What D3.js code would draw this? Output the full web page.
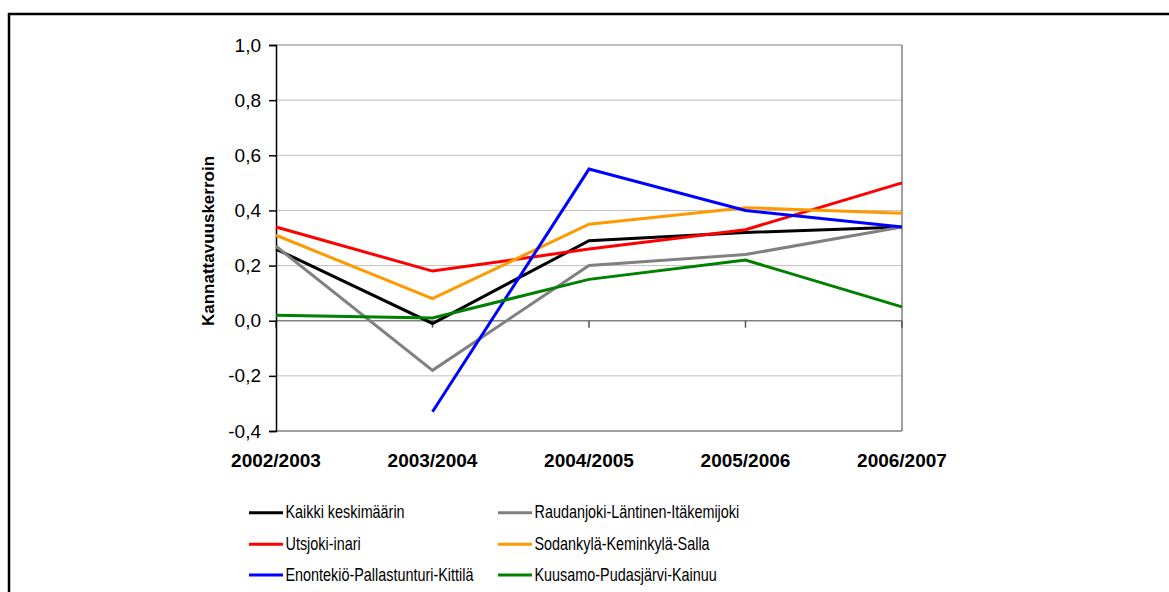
<!DOCTYPE html>
<html>
<head>
<meta charset="utf-8">
<script src="https://cdn.jsdelivr.net/npm/d3@7"></script>
<style>
  body { margin: 0; background: #fff; }
  svg { display: block; font-family: "Liberation Sans", Arial, sans-serif; }
</style>
</head>
<body>
<div id="chart"></div>
<script>
// categories (years) and the y ticks
var years = ['2002/2003', '2003/2004', '2004/2005', '2005/2006', '2006/2007']
var yTicks = [-0.4, -0.2, 0.0, 0.2, 0.4, 0.6, 0.8, 1.0]

// series names, in legend order
var names = ['Kaikki keskimäärin', 'Raudanjoki-Läntinen-Itäkemijoki', 'Utsjoki-inari',
             'Sodankylä-Keminkylä-Salla', 'Enontekiö-Pallastunturi-Kittilä', 'Kuusamo-Pudasjärvi-Kainuu']

// values (null = no value)
var kaikki     = [0.26, -0.01, 0.29, 0.32, 0.34]
var raudanjoki = [0.27, -0.18, 0.20, 0.24, 0.34]
var utsjoki    = [0.34, 0.18, 0.26, 0.33, 0.50]
var sodankyla  = [0.31, 0.08, 0.35, 0.41, 0.39]
var enontekio  = [null, -0.33, 0.55, 0.40, 0.34]
var kuusamo    = [0.02, 0.01, 0.15, 0.22, 0.05]

var colors = ['#000000', '#808080', '#ff0000', '#ff9900', '#0000ff', '#008000']

var W = 1169, H = 592
var plot = {left: 276, right: 902, top: 45, bottom: 431}

var svg = d3.select('#chart').append('svg')
    .attr('width', W).attr('height', H)

// outer frame (right and bottom edges fall outside the picture)
svg.append('rect')
    .attr('x', 9).attr('y', 14)
    .attr('width', W + 20).attr('height', H + 20)
    .attr('fill', 'none').attr('stroke', '#000').attr('stroke-width', 2.5)

var x = d3.scalePoint().domain(years).range([plot.left, plot.right])
var y = d3.scaleLinear().domain([-0.4, 1.0]).range([plot.bottom, plot.top])

//gridlines
svg.append('g')
    .selectAll('line')
    .data(yTicks)
    .enter().append('line')
    .attr('x1', plot.left).attr('x2', plot.right)
    .attr('y1', d => y(d)).attr('y2', d => y(d))
    .attr('stroke', d => (d === 0 || d === 1.0 || d === -0.4) ? '#808080' : '#c0c0c0')
    .attr('stroke-width', d => (d === 0 || d === -0.4) ? 1.5 : 1)

// right edge of plot area
svg.append('line')
    .attr('x1', plot.right).attr('x2', plot.right)
    .attr('y1', plot.top).attr('y2', plot.bottom)
    .attr('stroke', '#808080').attr('stroke-width', 1.5)

// category ticks on the zero line
svg.append('g')
    .selectAll('line')
    .data(years)
    .enter().append('line')
    .attr('x1', d => x(d)).attr('x2', d => x(d))
    .attr('y1', y(0)).attr('y2', y(0) + 7)
    .attr('stroke', '#555').attr('stroke-width', 1.5)

// y axis
var fmt = d3.format('.1f')
var yAxis = d3.axisLeft(y)
    .tickValues(yTicks)
    .tickSize(7)
    .tickPadding(8)
    .tickFormat(d => fmt(d).replace('.', ',').replace('\u2212', '-'))

var yG = svg.append('g')
    .attr('transform', `translate(${plot.left},0)`)
    .call(yAxis)
yG.select('.domain').attr('stroke', '#000').attr('stroke-width', 1.5)
yG.selectAll('.tick line').attr('stroke', '#000').attr('stroke-width', 1.5)
yG.selectAll('.tick text')
    .attr('font-size', 19)
    .attr('font-family', '"Liberation Sans", Arial, sans-serif')
    .attr('fill', '#000')

// x labels, at the bottom
svg.append('g')
    .selectAll('text')
    .data(years)
    .enter().append('text')
    .attr('x', d => x(d))
    .attr('y', 467)
    .attr('text-anchor', 'middle')
    .attr('font-size', 19)
    .attr('font-weight', 'bold')
    .text(d => d)

// axis title
svg.append('text')
    .attr('transform', `translate(214,241) rotate(-90)`)
    .attr('text-anchor', 'middle')
    .attr('font-size', 17)
    .attr('font-weight', 'bold')
    .text('Kannattavuuskerroin')

// lines
var series = [kaikki, raudanjoki, utsjoki, sodankyla, enontekio, kuusamo]
var line = d3.line()
    .defined(d => d !== null)
    .x((d, i) => x(years[i]))
    .y(d => y(d))

svg.append('g')
    .selectAll('path')
    .data(series)
    .enter().append('path')
    .attr('d', d => line(d))
    .attr('fill', 'none')
    .attr('stroke', (d, i) => colors[i])
    .attr('stroke-width', 3)
    .attr('stroke-linejoin', 'miter')

// legend, 2 columns
var legCols = [249, 498]
var legRows = [512.7, 544.3, 575]
var leg = svg.append('g')
    .selectAll('g')
    .data(names)
    .enter().append('g')
    .attr('transform', (d, i) => `translate(${legCols[i % 2]},${legRows[Math.floor(i / 2)]})`)

leg.append('line')
    .attr('x1', 0).attr('x2', 34)
    .attr('y1', 0).attr('y2', 0)
    .attr('stroke', (d, i) => colors[i])
    .attr('stroke-width', 3)

leg.append('text')
    .attr('transform', 'translate(36.5,5.5) scale(0.8,1)')
    .attr('font-size', 18)
    .text(d => d)
</script>
</body>
</html>
